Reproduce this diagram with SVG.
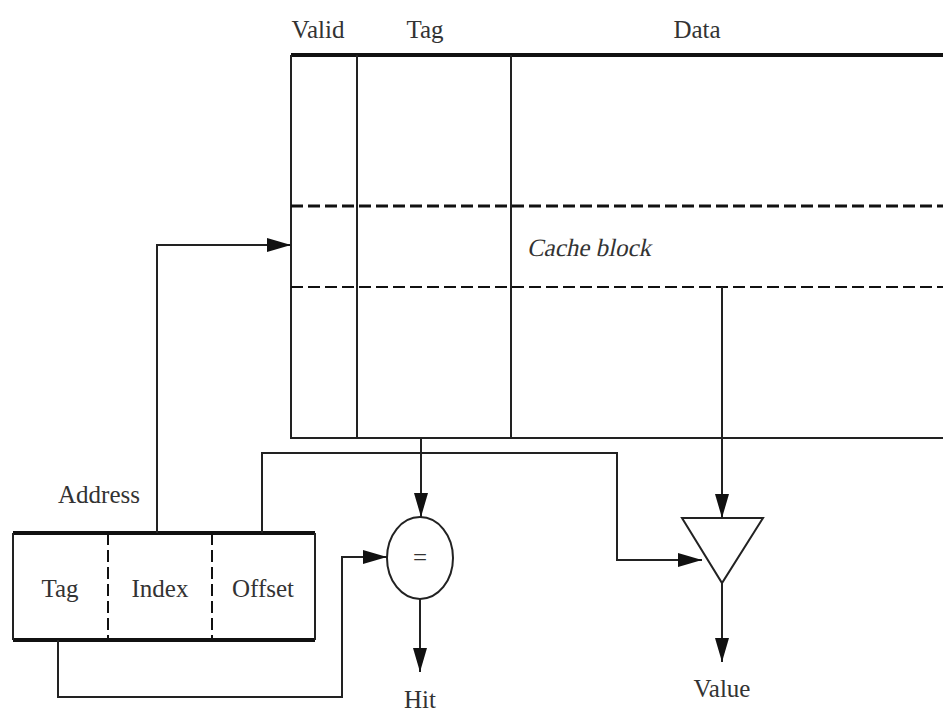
<svg xmlns="http://www.w3.org/2000/svg" width="943" height="713" viewBox="0 0 943 713">
<style>
.t{font-family:"Liberation Serif","Times New Roman",serif;font-size:25px;fill:#333;text-anchor:middle}
.ln{fill:none;stroke:#222;stroke-width:2}
.thick{fill:none;stroke:#111;stroke-width:4}
.dash{fill:none;stroke:#111;stroke-dasharray:12 5}
</style>
<defs>
<marker id="ah" markerUnits="userSpaceOnUse" markerWidth="26" markerHeight="16" refX="24" refY="8" orient="auto">
<path d="M0,1 L24,8 L0,15 z" fill="#111"/>
</marker>
</defs>
<rect width="943" height="713" fill="#fff"/>
<g id="cache">
<text class="t" x="318" y="38">Valid</text>
<text class="t" x="425" y="38">Tag</text>
<text class="t" x="697" y="38">Data</text>
<line class="thick" x1="291" y1="55" x2="943" y2="55"/>
<polyline class="ln" points="291,55 291,438 943,438"/>
<line class="ln" x1="357" y1="55" x2="357" y2="438"/>
<line class="ln" x1="511" y1="55" x2="511" y2="438"/>
<line class="dash" stroke-width="3" x1="291" y1="206" x2="943" y2="206"/>
<line class="dash" stroke-width="2" x1="291" y1="287" x2="943" y2="287"/>
<text class="t" x="0" y="0" transform="translate(589,256) skewX(-12)">Cache block</text>
</g>
<g id="address">
<text class="t" x="99" y="503">Address</text>
<line class="thick" x1="13" y1="533" x2="315" y2="533"/>
<line class="thick" x1="13" y1="640" x2="315" y2="640"/>
<line class="ln" x1="13" y1="533" x2="13" y2="640"/>
<line class="ln" x1="315" y1="533" x2="315" y2="640"/>
<line class="dash" stroke-width="2" stroke-dasharray="9 4" x1="108" y1="533" x2="108" y2="640"/>
<line class="dash" stroke-width="2" stroke-dasharray="9 4" x1="212" y1="533" x2="212" y2="640"/>
<text class="t" x="60" y="597">Tag</text>
<text class="t" x="160" y="597">Index</text>
<text class="t" x="263" y="597">Offset</text>
</g>
<g id="comparator">
<ellipse cx="420" cy="558" rx="33" ry="41" fill="#fff" stroke="#222" stroke-width="2"/>
<text class="t" x="420" y="566" font-size="22">=</text>
</g>
<g id="mux">
<polygon points="682,518 763,518 722,583" fill="#fff" stroke="#222" stroke-width="2"/>
</g>
<g id="connectors">
<polyline class="ln" points="157,533 157,245 291,245" marker-end="url(#ah)"/>
<polyline class="ln" points="421,438 421,517" marker-end="url(#ah)"/>
<polyline class="ln" points="262,533 262,453 617,453 617,560 702,560" marker-end="url(#ah)"/>
<polyline class="ln" points="58,640 58,697 342,697 342,557 387,557" marker-end="url(#ah)"/>
<polyline class="ln" points="722,287 722,518" marker-end="url(#ah)"/>
<polyline class="ln" points="420,599 420,672" marker-end="url(#ah)"/>
<polyline class="ln" points="722,583 722,662" marker-end="url(#ah)"/>
</g>
<g id="labels">
<text class="t" x="420" y="708">Hit</text>
<text class="t" x="722" y="697">Value</text>
</g>
</svg>
